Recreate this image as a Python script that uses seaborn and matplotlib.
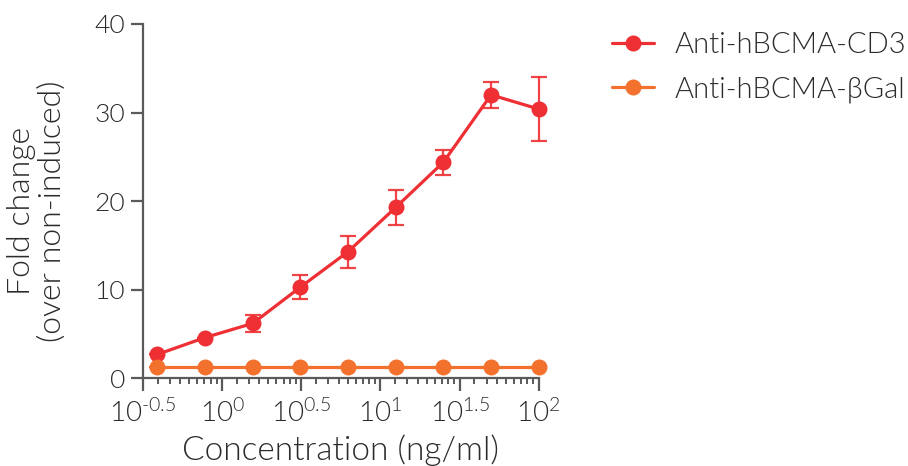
import numpy as np
import pandas as pd
import matplotlib
matplotlib.use('Agg')
import matplotlib.pyplot as plt
import matplotlib.ticker as mticker
import seaborn as sns

##### data #####
conc = [0.39, 0.78, 1.5625, 3.125, 6.25, 12.5, 25, 50, 100]
cd3_mean = [2.7, 4.6, 6.2, 10.3, 14.3, 19.3, 24.4, 32.0, 30.4]
cd3_err = [0, 0, 1.0, 1.35, 1.8, 2.0, 1.4, 1.5, 3.65]
gal_mean = [1.25, 1.25, 1.25, 1.25, 1.25, 1.25, 1.25, 1.25, 1.25]
gal_err = [0, 0, 0, 0, 0, 0, 0, 0, 0]
labels = ['Anti-hBCMA-CD3', 'Anti-hBCMA-\u03b2Gal']
colors = ['#ee2f33', '#f2712d']
xticks_exp = ['\u20100.5', '0', '0.5', '1', '1.5', '2']

df = pd.DataFrame({
    'Concentration': conc + conc,
    'Fold': cd3_mean + gal_mean,
    'Err': cd3_err + gal_err,
    'Group': [labels[0]] * len(conc) + [labels[1]] * len(conc),
})

##### style #####
sns.set_style('ticks')
plt.rcParams['font.family'] = ['Lato', 'DejaVu Sans']
plt.rcParams['font.weight'] = 300
plt.rcParams['axes.labelweight'] = 300
plt.rcParams['mathtext.fontset'] = 'custom'
plt.rcParams['mathtext.rm'] = 'Lato:weight=300'
plt.rcParams['mathtext.it'] = 'Lato:weight=300'
axis_col = '#5a5a5a'
text_col = '#2b2b2b'

fig = plt.figure(figsize=(9.08, 4.66), dpi=100)
ax = fig.add_axes([0.1575, 0.1882, 0.4358, 0.7603])

sns.lineplot(data=df, x='Concentration', y='Fold', hue='Group', palette=colors,
             marker='o', markersize=11.5, markeredgewidth=0, linewidth=2.3,
             ax=ax, clip_on=False, zorder=3)

for lab, col in zip(labels, colors):
    sub = df[df['Group'] == lab]
    ax.errorbar(sub['Concentration'], sub['Fold'], yerr=sub['Err'], fmt='none',
                ecolor=col, elinewidth=1.6, capsize=5.5, capthick=1.6,
                clip_on=False, zorder=2, alpha=0.9)

ax.set_xscale('log')
ax.set_xlim(10 ** -0.5, 10 ** 2)
ax.set_ylim(0, 40)

major = [10 ** float(e.replace('\u2010', '-')) for e in xticks_exp]
ax.xaxis.set_major_locator(mticker.FixedLocator(major))
ax.xaxis.set_major_formatter(mticker.FixedFormatter(['$10^{%s}$' % e for e in xticks_exp]))
minor = []
for a, b in zip(major[:-1], major[1:]):
    minor += list(np.linspace(a, b, 10)[1:-1])
ax.xaxis.set_minor_locator(mticker.FixedLocator(minor))
ax.xaxis.set_minor_formatter(mticker.NullFormatter())
ax.set_yticks([0, 10, 20, 30, 40])

for s in ['top', 'right']:
    ax.spines[s].set_visible(False)
for s in ['left', 'bottom']:
    ax.spines[s].set_color(axis_col)
    ax.spines[s].set_linewidth(1.6)

ax.tick_params(axis='both', which='major', length=9, width=1.6, color=axis_col,
               labelcolor=text_col)
ax.tick_params(axis='x', which='major', labelsize=20, pad=6)
ax.tick_params(axis='y', which='major', labelsize=19, pad=4)
ax.tick_params(axis='x', which='minor', length=4, width=1.4, color=axis_col)

ax.set_xlabel('Concentration (ng/ml)', fontsize=24, color=text_col, labelpad=5)
ax.set_ylabel('Fold change\n(over non-induced)', fontsize=23, color=text_col,
              labelpad=20, linespacing=1.05)
ax.yaxis.label.set_y(0.472)

handles, labs = ax.get_legend_handles_labels()
ax.legend(handles, labs, loc='upper left', bbox_to_anchor=(612 / 908, 1 - 32 / 466),
          bbox_transform=fig.transFigure, frameon=False, fontsize=21,
          handlelength=1.45, handletextpad=0.7, labelspacing=0.62,
          borderpad=0, borderaxespad=0, labelcolor=text_col)

plt.savefig('out.png', dpi=100)
